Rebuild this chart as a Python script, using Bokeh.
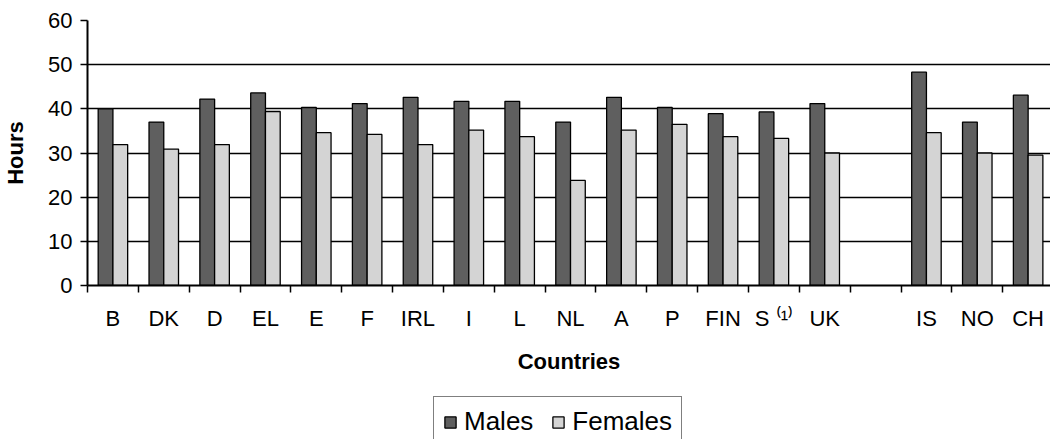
import numpy as np
from bokeh.plotting import figure
from bokeh.layouts import column
from bokeh.models import ColumnDataSource, FixedTicker, Range1d, Legend, LegendItem
from bokeh.embed import file_html
from bokeh.resources import INLINE

countries = ["B", "DK", "D", "EL", "E", "F", "IRL", "I", "L", "NL", "A", "P",
             "FIN", "S \u207d\u00b9\u207e", "UK", "", "IS", "NO", "CH"]
males = [40.0, 37.0, 42.2, 43.6, 40.3, 41.2, 42.6, 41.7, 41.7, 37.0, 42.6, 40.3,
         38.9, 39.3, 41.2, np.nan, 48.3, 37.0, 43.1]
females = [31.9, 30.9, 31.9, 39.4, 34.6, 34.2, 31.9, 35.2, 33.7, 23.8, 35.2, 36.5,
           33.7, 33.3, 30.0, np.nan, 34.6, 30.0, 29.5]
y_ticks = [0, 10, 20, 30, 40, 50, 60]
series = ["Males", "Females"]
colors = ["#5f5f5f", "#d4d4d4"]

n = len(countries)
centers = np.arange(n) + 0.5
bounds = np.arange(n + 1).astype(float)

src = ColumnDataSource(dict(xm=centers - 0.145, xf=centers + 0.145,
                            males=males, females=females))

FONT = "Liberation Sans"

p = figure(width=1050, height=380, output_backend="svg", toolbar_location=None,
           x_range=Range1d(0, 18.94), y_range=Range1d(0, 60),
           min_border_left=86, min_border_right=0, min_border_top=20,
           min_border_bottom=95)
p.outline_line_color = None
p.background_fill_color = "white"
p.border_fill_color = "white"

p.vbar(x="xm", top="males", width=0.29, bottom=0, source=src,
       fill_color=colors[0], line_color="black", line_width=1.3)
p.vbar(x="xf", top="females", width=0.29, bottom=0, source=src,
       fill_color=colors[1], line_color="black", line_width=1.3)

# x axis
xa = p.xaxis[0]
xa.ticker = FixedTicker(ticks=list(centers), minor_ticks=list(bounds))
xa.major_label_overrides = {float(c): lab for c, lab in zip(centers, countries)}
xa.major_tick_out = 0
xa.major_tick_in = 0
xa.minor_tick_out = 7
xa.minor_tick_in = 0
xa.minor_tick_line_color = "black"
xa.minor_tick_line_width = 1.5
xa.axis_line_color = "black"
xa.axis_line_width = 2
xa.major_label_text_font = FONT
xa.major_label_text_font_size = "22px"
xa.major_label_text_color = "black"
xa.major_label_standoff = 13
xa.axis_label = "Countries"
xa.axis_label_text_font = FONT
xa.axis_label_text_font_style = "bold"
xa.axis_label_text_font_size = "22px"
xa.axis_label_text_color = "black"
xa.axis_label_standoff = 15

# y axis
ya = p.yaxis[0]
ya.ticker = FixedTicker(ticks=y_ticks)
ya.minor_tick_line_color = None
ya.major_tick_out = 7
ya.major_tick_in = 0
ya.major_tick_line_color = "black"
ya.major_tick_line_width = 1.5
ya.axis_line_color = "black"
ya.axis_line_width = 2
ya.major_label_text_font = FONT
ya.major_label_text_font_size = "22px"
ya.major_label_text_color = "black"
ya.major_label_standoff = 8
ya.axis_label = "Hours"
ya.axis_label_text_font = FONT
ya.axis_label_text_font_style = "bold"
ya.axis_label_text_font_size = "22px"
ya.axis_label_text_color = "black"
ya.axis_label_standoff = 17

p.xgrid.grid_line_color = None
p.ygrid.grid_line_color = "black"
p.ygrid.grid_line_width = 1.3
p.ygrid.ticker = FixedTicker(ticks=y_ticks)

# legend strip below the chart (its bars are hidden, only the legend shows)
lg = figure(width=1050, height=59, output_backend="svg", toolbar_location=None,
            x_range=Range1d(0, 18.94), y_range=Range1d(0, 60),
            x_axis_location=None, y_axis_location=None,
            min_border=0)
lg.outline_line_color = None
lg.grid.grid_line_color = None
lg.background_fill_color = "white"
lg.border_fill_color = "white"
items = []
for name, col, xcol, ycol in zip(series, colors, ["xm", "xf"], ["males", "females"]):
    r = lg.vbar(x=xcol, top=ycol, width=0.29, bottom=0, source=src,
                fill_color=col, line_color="black", line_width=1.3)
    r.visible = False
    items.append(LegendItem(label=name, renderers=[r]))

legend = Legend(items=items, orientation="horizontal", location=(346, -8),
                border_line_color="black", border_line_width=1.5,
                background_fill_color="white", background_fill_alpha=1.0,
                inactive_fill_alpha=0.0,
                label_text_font=FONT, label_text_font_size="26px",
                label_text_color="black",
                glyph_width=14, glyph_height=14, spacing=18,
                label_standoff=7, padding=9, margin=0)
lg.add_layout(legend, "center")

layout = column(p, lg, spacing=0)
open("out.html", "w").write(file_html(layout, INLINE))
